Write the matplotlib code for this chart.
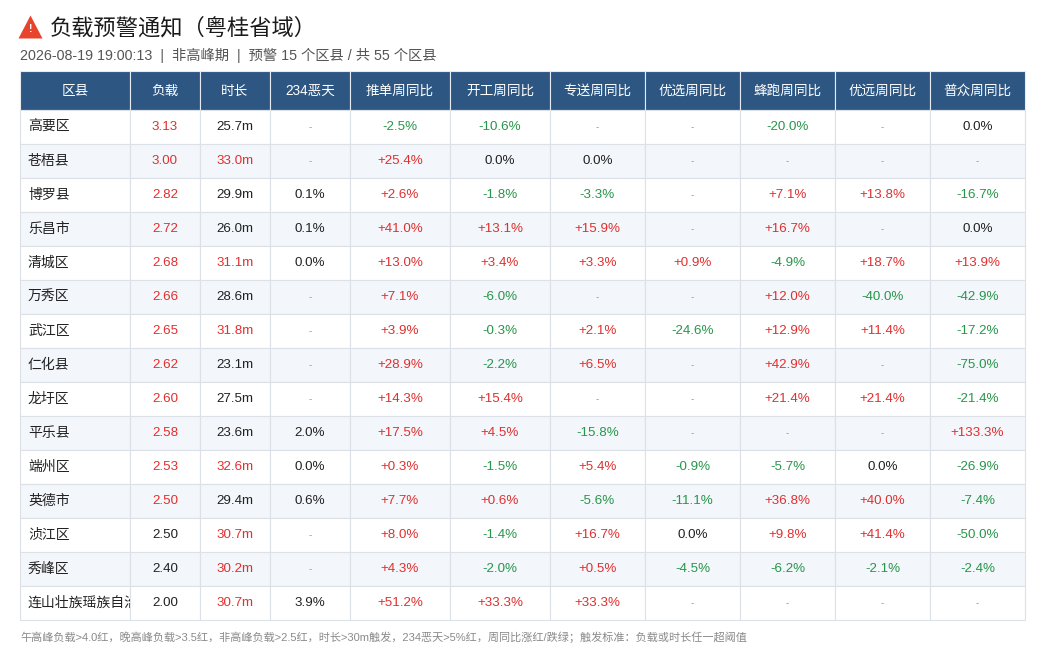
import matplotlib
matplotlib.use("Agg")
import matplotlib.pyplot as plt
from matplotlib.patches import Rectangle, Polygon
from matplotlib.transforms import Bbox, TransformedBbox

plt.rcParams["font.family"] = ["Liberation Sans", "Noto Sans CJK SC", "DejaVu Sans"]

# colours
HEAD_BLUE = "#2d5683"
RED = "#e0302f"
GREEN = "#27964a"
BLACK = "#222222"
DASH = "#999999"
GRID = "#dce1e8"
STRIPE = "#f3f6fa"

title = "负载预警通知（粤桂省域）"
subtitle = "2026-08-19 19:00:13  |  非高峰期  |  预警 15 个区县 / 共 55 个区县"
footer = ("午高峰负载>4.0红，晚高峰负载>3.5红，非高峰负载>2.5红，时长>30m触发，"
          "234恶天>5%红，周同比涨红/跌绿；触发标准：负载或时长任一超阈值")

headers = ["区县", "负载", "时长", "234恶天", "推单周同比", "开工周同比", "专送周同比",
           "优选周同比", "蜂跑周同比", "优远周同比", "普众周同比"]

districts = ["高要区", "苍梧县", "博罗县", "乐昌市", "清城区", "万秀区", "武江区", "仁化县",
             "龙圩区", "平乐县", "端州区", "英德市", "浈江区", "秀峰区", "连山壮族瑶族自治县"]
loads = ["3.13", "3.00", "2.82", "2.72", "2.68", "2.66", "2.65", "2.62",
         "2.60", "2.58", "2.53", "2.50", "2.50", "2.40", "2.00"]
load_alert = [True] * 12 + [False] * 3
durations = [25.7, 33.0, 29.9, 26.0, 31.1, 28.6, 31.8, 23.1,
             27.5, 23.6, 32.6, 29.4, 30.7, 30.2, 30.7]
bad_weather = [None, None, 0.1, 0.1, 0.0, None, None, None,
               None, 2.0, 0.0, 0.6, None, None, 3.9]

push_wow = [-2.5, 25.4, 2.6, 41.0, 13.0, 7.1, 3.9, 28.9, 14.3, 17.5, 0.3, 7.7, 8.0, 4.3, 51.2]
work_wow = [-10.6, 0.0, -1.8, 13.1, 3.4, -6.0, -0.3, -2.2, 15.4, 4.5, -1.5, 0.6, -1.4, -2.0, 33.3]
zs_wow = [None, 0.0, -3.3, 15.9, 3.3, None, 2.1, 6.5, None, -15.8, 5.4, -5.6, 16.7, 0.5, 33.3]
yx_wow = [None, None, None, None, 0.9, None, -24.6, None, None, None, -0.9, -11.1, 0.0, -4.5, None]
fp_wow = [-20.0, None, 7.1, 16.7, -4.9, 12.0, 12.9, 42.9, 21.4, None, -5.7, 36.8, 9.8, -6.2, None]
yy_wow = [None, None, 13.8, None, 18.7, -40.0, 11.4, None, 21.4, None, 0.0, 40.0, 41.4, -2.1, None]
pz_wow = [0.0, None, -16.7, 0.0, 13.9, -42.9, -17.2, -75.0, -21.4, 133.3, -26.9, -7.4, -50.0, -2.4, None]
wow_cols = [push_wow, work_wow, zs_wow, yx_wow, fp_wow, yy_wow, pz_wow]

# layout in pixels
W, H = 1045, 670
col_w = [110, 70, 70, 80, 100, 100, 95, 95, 95, 95, 95]
x0, y_head, head_h, row_h = 20, 71, 39, 34

fig = plt.figure(figsize=(W / 100, H / 100), dpi=100)
ax = fig.add_axes([0, 0, 1, 1])
ax.set_xlim(0, W)
ax.set_ylim(H, 0)
ax.axis("off")

# title + warning icon
ax.add_patch(Polygon([(18.5, 38.5), (30.5, 15.5), (42.5, 38.5)], closed=True,
                     color="#e8432c", lw=0))
ax.text(30.5, 29, "!", color="white", fontsize=7.5, fontweight="bold", ha="center", va="center")
ax.text(50, 29, title, fontsize=16, color="#1a1a1a", ha="left", va="center")
ax.text(20, 55, subtitle, fontsize=10.3, color="#555555", ha="left", va="center")

xs = [x0]
for w in col_w:
    xs.append(xs[-1] + w)


def cell_text(i, j):
    if j == 0:
        return districts[i], BLACK
    if j == 1:
        return loads[i], RED if load_alert[i] else BLACK
    if j == 2:
        d = durations[i]
        return f"{d:.1f}m", RED if d > 30 else BLACK
    if j == 3:
        v = bad_weather[i]
        if v is None:
            return "-", DASH
        return f"{v:.1f}%", RED if v > 5 else BLACK
    v = wow_cols[j - 4][i]
    if v is None:
        return "-", DASH
    if v > 0:
        return f"+{v:.1f}%", RED
    if v < 0:
        return f"{v:.1f}%", GREEN
    return "0.0%", BLACK


# header
for j, h in enumerate(headers):
    ax.add_patch(Rectangle((xs[j], y_head), col_w[j], head_h, facecolor=HEAD_BLUE,
                           edgecolor="#e6ebf2", lw=0.8))
    ax.text(xs[j] + col_w[j] / 2, y_head + head_h / 2, h, color="white", fontsize=9.8,
            ha="center", va="center")

# body
for i in range(len(districts)):
    y = y_head + head_h + i * row_h
    bg = STRIPE if i % 2 == 1 else "white"
    for j in range(len(headers)):
        ax.add_patch(Rectangle((xs[j], y), col_w[j], row_h, facecolor=bg,
                               edgecolor=GRID, lw=0.8))
        txt, c = cell_text(i, j)
        if j == 0:
            t = ax.text(xs[j] + 8, y + row_h / 2, txt, color=c, fontsize=10,
                        ha="left", va="center", clip_on=True)
            box = Bbox([[xs[j], y], [xs[j + 1] - 0.5, y + row_h]])
            t.set_clip_box(TransformedBbox(box, ax.transData))
            t.set_clip_path(None)
        else:
            fs = 7 if txt == "-" else 9.6
            ax.text(xs[j] + col_w[j] / 2, y + row_h / 2, txt, color=c, fontsize=fs,
                    ha="center", va="center")

ax.text(20, 637, footer, fontsize=8.0, color="#8a8a8a", ha="left", va="center")

fig.savefig("out.png", dpi=100)
